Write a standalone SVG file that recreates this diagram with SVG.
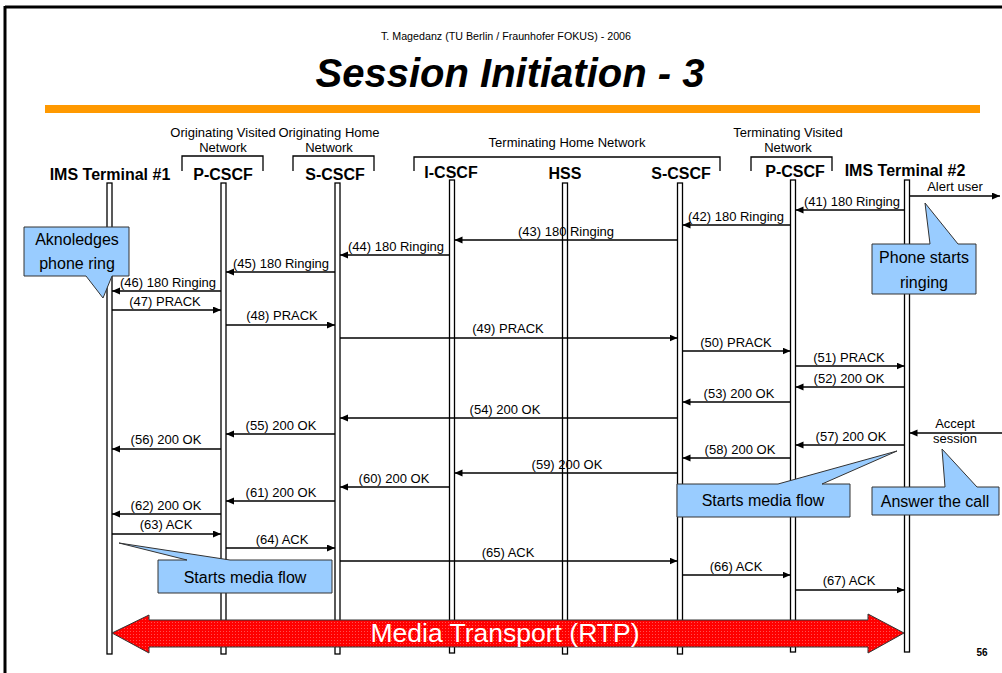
<svg xmlns="http://www.w3.org/2000/svg" width="1002" height="673" viewBox="0 0 1002 673">
<style>
text{font-family:"Liberation Sans",Arial,sans-serif;fill:#000}
.lbl{font-size:13px;text-anchor:middle}
.hdr{font-size:16px;font-weight:bold;text-anchor:middle}
.net{font-size:13px;text-anchor:middle}
.co{font-size:16px;text-anchor:middle}
.life{fill:#fff;stroke:#000;stroke-width:1.3}
.msg{stroke:#000;stroke-width:1.5;fill:none;marker-end:url(#ah)}
.brk{stroke:#000;stroke-width:1.3;fill:none}
.call{fill:#99CCFF;stroke:#333;stroke-width:1}
</style>
<defs>
<marker id="ah" markerUnits="userSpaceOnUse" markerWidth="9" markerHeight="8" refX="8" refY="3.5" orient="auto">
<path d="M0,0 L8,3.5 L0,7 Z" fill="#000"/>
</marker>
<pattern id="dots" width="3" height="3" patternUnits="userSpaceOnUse">
<rect width="3" height="3" fill="#FF0000"/>
<rect x="1" y="1" width="1" height="1" fill="#FF5050"/>
</pattern>
</defs>
<rect width="1002" height="673" fill="#fff"/>
<g id="frame">
<line x1="5" y1="7" x2="1002" y2="7" stroke="#000" stroke-width="3"/>
<line x1="5" y1="6" x2="5" y2="673" stroke="#000" stroke-width="3"/>
</g>
<g id="header">
<text x="506" y="40" font-size="10" text-anchor="middle" textLength="250" lengthAdjust="spacingAndGlyphs">T. Magedanz (TU Berlin / Fraunhofer FOKUS) - 2006</text>
<text x="510" y="87" font-size="40" font-weight="bold" font-style="italic" text-anchor="middle">Session Initiation - 3</text>
<rect x="45" y="105" width="935" height="8" fill="#FF9900"/>
<text x="982" y="656" font-size="10" font-weight="bold" text-anchor="middle">56</text>
</g>
<g id="networks">
<text class="net" x="223" y="137">Originating Visited</text>
<text class="net" x="223" y="152">Network</text>
<path class="brk" d="M182,171 V156 H263 V171"/>
<text class="net" x="329" y="137">Originating Home</text>
<text class="net" x="329" y="152">Network</text>
<path class="brk" d="M293,171 V156 H374 V171"/>
<text class="net" x="567" y="147">Terminating Home Network</text>
<path class="brk" d="M414,171 V157 H720 V171"/>
<text class="net" x="788" y="137">Terminating Visited</text>
<text class="net" x="788" y="152">Network</text>
<path class="brk" d="M751,171 V157 H832 V171"/>
</g>
<g id="ims1"><text class="hdr" x="110" y="180">IMS Terminal #1</text><rect class="life" x="107" y="183" width="5" height="471"/></g>
<g id="pcscf1"><text class="hdr" x="223" y="180">P-CSCF</text><rect class="life" x="221" y="183" width="5" height="471"/></g>
<g id="scscf1"><text class="hdr" x="335" y="180">S-CSCF</text><rect class="life" x="335" y="183" width="5" height="471"/></g>
<g id="icscf"><text class="hdr" x="451" y="178">I-CSCF</text><rect class="life" x="449.5" y="180" width="5" height="473"/></g>
<g id="hss"><text class="hdr" x="565" y="179">HSS</text><rect class="life" x="562.5" y="183" width="5" height="471"/></g>
<g id="scscf2"><text class="hdr" x="681" y="179">S-CSCF</text><rect class="life" x="677.5" y="183" width="5" height="471"/></g>
<g id="pcscf2"><text class="hdr" x="795" y="177">P-CSCF</text><rect class="life" x="790.5" y="180" width="5" height="472"/></g>
<g id="ims2"><text class="hdr" x="905" y="176">IMS Terminal #2</text><rect class="life" x="904.5" y="180" width="5" height="472"/></g>
<g id="connectors">
<line class="msg" x1="909.5" y1="196" x2="1000" y2="196"/><text class="lbl" x="955" y="191">Alert user</text>
<line class="msg" x1="904.5" y1="210" x2="795.5" y2="210"/><text class="lbl" x="852" y="206">(41) 180 Ringing</text>
<line class="msg" x1="790.5" y1="225" x2="682.5" y2="225"/><text class="lbl" x="736" y="221">(42) 180 Ringing</text>
<line class="msg" x1="677.5" y1="240" x2="454.5" y2="240"/><text class="lbl" x="566" y="236">(43) 180 Ringing</text>
<line class="msg" x1="449.5" y1="255" x2="340" y2="255"/><text class="lbl" x="396" y="251">(44) 180 Ringing</text>
<line class="msg" x1="335" y1="272" x2="226" y2="272"/><text class="lbl" x="281" y="268">(45) 180 Ringing</text>
<line class="msg" x1="221" y1="291" x2="112" y2="291"/><text class="lbl" x="168" y="287">(46) 180 Ringing</text>
<line class="msg" x1="112" y1="310" x2="221" y2="310"/><text class="lbl" x="165" y="306">(47) PRACK</text>
<line class="msg" x1="226" y1="325" x2="335" y2="325"/><text class="lbl" x="282" y="320">(48) PRACK</text>
<line class="msg" x1="340" y1="338" x2="677.5" y2="338"/><text class="lbl" x="508" y="333">(49) PRACK</text>
<line class="msg" x1="682.5" y1="351" x2="790.5" y2="351"/><text class="lbl" x="736" y="347">(50) PRACK</text>
<line class="msg" x1="795.5" y1="366" x2="904.5" y2="366"/><text class="lbl" x="849" y="362">(51) PRACK</text>
<line class="msg" x1="904.5" y1="387" x2="795.5" y2="387"/><text class="lbl" x="849" y="383">(52) 200 OK</text>
<line class="msg" x1="790.5" y1="402" x2="682.5" y2="402"/><text class="lbl" x="739" y="398">(53) 200 OK</text>
<line class="msg" x1="677.5" y1="418" x2="340" y2="418"/><text class="lbl" x="505" y="414">(54) 200 OK</text>
<line class="msg" x1="335" y1="434" x2="226" y2="434"/><text class="lbl" x="281" y="430">(55) 200 OK</text>
<line class="msg" x1="221" y1="449" x2="112" y2="449"/><text class="lbl" x="166" y="444">(56) 200 OK</text>
<line class="msg" x1="1002" y1="433" x2="909.5" y2="433"/><text class="lbl" x="955" y="428">Accept</text><text class="lbl" x="955" y="443">session</text>
<line class="msg" x1="904.5" y1="445" x2="795.5" y2="445"/><text class="lbl" x="851" y="441">(57) 200 OK</text>
<line class="msg" x1="790.5" y1="458" x2="682.5" y2="458"/><text class="lbl" x="740" y="454">(58) 200 OK</text>
<line class="msg" x1="677.5" y1="473" x2="454.5" y2="473"/><text class="lbl" x="567" y="469">(59) 200 OK</text>
<line class="msg" x1="449.5" y1="487" x2="340" y2="487"/><text class="lbl" x="394" y="483">(60) 200 OK</text>
<line class="msg" x1="335" y1="501" x2="226" y2="501"/><text class="lbl" x="281" y="497">(61) 200 OK</text>
<line class="msg" x1="221" y1="514" x2="112" y2="514"/><text class="lbl" x="166" y="510">(62) 200 OK</text>
<line class="msg" x1="112" y1="534" x2="221" y2="534"/><text class="lbl" x="166" y="529">(63) ACK</text>
<line class="msg" x1="226" y1="548" x2="335" y2="548"/><text class="lbl" x="282" y="544">(64) ACK</text>
<line class="msg" x1="340" y1="561" x2="677.5" y2="561"/><text class="lbl" x="508" y="557">(65) ACK</text>
<line class="msg" x1="682.5" y1="575" x2="790.5" y2="575"/><text class="lbl" x="736" y="571">(66) ACK</text>
<line class="msg" x1="795.5" y1="590" x2="904.5" y2="590"/><text class="lbl" x="849" y="585">(67) ACK</text>
</g>
<g id="callout-ack">
<path class="call" d="M24,227 H129 V276 H112 L103,298 L86,276 H24 Z"/>
<text class="co" x="77" y="245">Aknoledges</text><text class="co" x="77" y="269">phone ring</text>
</g>
<g id="callout-ring">
<path class="call" d="M872,244 H930 L925,203 L958,244 H976 V294 H872 Z"/>
<text class="co" x="924" y="263">Phone starts</text><text class="co" x="924" y="288">ringing</text>
</g>
<g id="callout-media2">
<path class="call" d="M677,484 H778 L897,451 L822,484 H850 V517 H677 Z"/>
<text class="co" x="763" y="506">Starts media flow</text>
</g>
<g id="callout-answer">
<path class="call" d="M872,487 H945 L942,449 L977,487 H999 V515 H872 Z"/>
<text class="co" x="935" y="507">Answer the call</text>
</g>
<g id="callout-media1">
<path class="call" d="M158,560 H187 L119,543 L230,560 H332 V593 H158 Z"/>
<text class="co" x="245" y="583">Starts media flow</text>
</g>
<g id="rtp">
<path d="M112,633 L149,615 V620 H868 V614 L904,633 L868,653 V647 H149 V653 Z" fill="url(#dots)" stroke="#333" stroke-width="1"/>
<text x="505" y="642" font-size="26.5" text-anchor="middle" style="fill:#fff">Media Transport (RTP)</text>
</g>
</svg>
